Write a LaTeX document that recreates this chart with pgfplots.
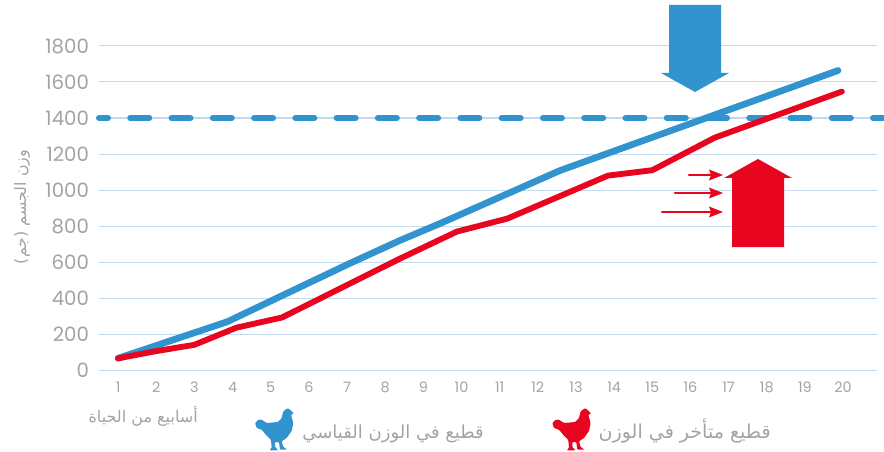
\documentclass[border=0pt]{standalone}
\usepackage{pgfplots}
\usepackage{fontspec}
\pgfplotsset{compat=1.18}
\setmainfont{Poppins}
\newfontfamily\arabicfont[Script=Arabic]{DejaVu Sans}
\TeXXeTstate=1
\definecolor{cblue}{HTML}{3194CF}
\definecolor{cred}{HTML}{E8051F}
\definecolor{cgrid}{HTML}{C3DAEC}
\definecolor{ctext}{HTML}{A3A3A3}
\newcommand{\chicken}[3]{\fill[#3,rounded corners=0.7pt,shift={(#1,#2)}]
 (0,15)--(3.3,11.7)--(6.7,11.7)--(11.7,15)--(23,14)--(26.7,10)--(28.3,3.3)--(33,0)--(36.7,3.3)--(39,5.7)--(36,6.7)--(38.3,15)--(36.7,23)--(31.7,30)--(26.7,33.3)--(28.3,39)--(32.3,41.7)--(25,41.7)--(24,34)--(20,34)--(20,39)--(23.3,42.3)--(14.3,42.3)--(16.7,40)--(16,32)--(11.7,27.7)--(6.7,21.7)--(1.7,20)--cycle;}
\begin{document}
\begin{tikzpicture}
\path[use as bounding box] (0,0) rectangle (663pt,-339pt);
\begin{axis}[
  at={(74.25pt,-277.5pt)},anchor=south west,
  scale only axis,width=583.5pt,height=243pt,
  xmin=0.5,xmax=20.89,ymin=0,ymax=1800,
  clip=false,
  axis line style={draw=none},
  major tick style={draw=none},
  xtick={1,...,20},
  ytick={0,200,...,1800},
  ymajorgrids,
  y grid style={cgrid,line width=0.75pt},
  /pgf/number format/assume math mode=true,
  /pgf/number format/1000 sep={},
  yticklabel style={font=\fontsize{14.8}{15}\selectfont,text=ctext,xshift=-4pt},
  xticklabel style={font=\fontsize{10.8}{12}\selectfont,text=ctext,yshift=-5pt,text height=8pt,text depth=0pt,anchor=north},
]
\addplot[cblue,line width=4.5pt,line cap=round,line join=round,
  dash pattern=on 14.25pt off 16.7pt,dash phase=7.5pt]
  coordinates {(0.5,1400) (21.3,1400)};
\addplot[cblue,line width=5pt,line cap=round,line join=round] coordinates {
(1,65)(3.86,268)(7.05,590)(8.39,720)(9.44,814)(12.58,1108)(19.87,1664)};
\addplot[cred,line width=4.4pt,line cap=round,line join=round] coordinates {
(1,65)(2,105)(3,140)(4.1,235)(5.3,292)(8.39,619)(9.88,769)(11.2,841)(13.84,1080)(15,1110)(16.64,1291)(19.97,1547)};
\end{axis}
\begin{scope}[x=0.75pt,y=-0.75pt]
\fill[cblue] (669,5)--(721,5)--(721,73)--(729,73)--(695,92)--(661,73)--(669,73)--cycle;
\fill[cred] (732,247)--(784,247)--(784,178)--(792,178)--(758,159)--(724,178)--(732,178)--cycle;
\foreach \y/\x in {175/689,193/675,212/662}{
  \draw[cred,line width=1.8pt,line cap=round] (\x,\y)--(712,\y);
  \fill[cred] (723,\y)--(709,\y-5.5)--(711,\y)--(709,\y+5.5)--cycle;
}
\chicken{255}{408}{cblue}
\chicken{552.3}{408}{cred}
\node[anchor=base east,inner sep=0,text=ctext,font=\arabicfont\fontsize{13.5}{16}\selectfont] at (484,438) {\beginR قطيع في الوزن القياسي\endR};
\node[anchor=base east,inner sep=0,text=ctext,font=\arabicfont\fontsize{14.3}{16}\selectfont] at (771,438) {\beginR قطيع متأخر في الوزن\endR};
\node[anchor=base east,inner sep=0,text=ctext,font=\arabicfont\fontsize{12}{14}\selectfont] at (198,422) {\beginR أسابيع من الحياة\endR};
\node[rotate=90,inner sep=0,text=ctext,font=\arabicfont\fontsize{11.9}{14}\selectfont] at (22,207) {\beginR وزن الجسم (جم)\endR};
\end{scope}
\end{tikzpicture}
\end{document}
